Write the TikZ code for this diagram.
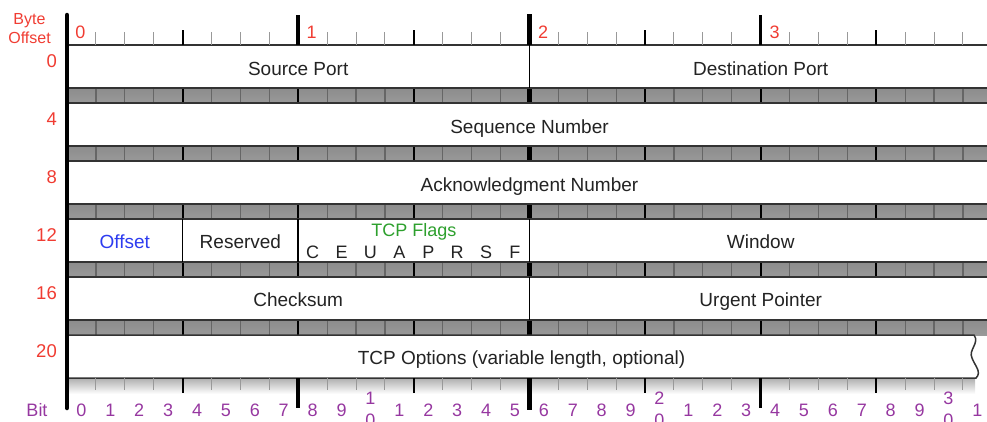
\documentclass[tikz,border=0pt]{standalone}
\usepackage{fontspec}
\setmainfont{Liberation Sans}
\definecolor{offred}{RGB}{240,60,50}
\definecolor{bitpurple}{RGB}{150,55,160}
\definecolor{offblue}{RGB}{45,60,240}
\definecolor{flaggreen}{RGB}{45,160,45}
\definecolor{fieldtext}{RGB}{35,35,35}
\tikzset{
 fieldlabel/.style={font=\fontsize{19}{22}\selectfont, text=fieldtext, anchor=base, inner sep=0pt},
 flaglabel/.style={font=\fontsize{18}{21}\selectfont, text=fieldtext, anchor=base, inner sep=0pt},
 offlabel/.style={font=\fontsize{18.5}{21}\selectfont, text=offred, anchor=east, inner sep=0pt},
 bytelabel/.style={font=\fontsize{18}{20}\selectfont, text=offred, inner sep=0pt},
 bitlabel/.style={font=\fontsize{18}{21}\selectfont, text=bitpurple, inner sep=0pt},
 rowline/.style={line width=1.5pt, draw=black!80},
 divider/.style={line width=1.6pt, draw=black},
 minortick/.style={line width=1pt, draw=black!40},
 nibtick/.style={line width=2pt, draw=black},
 bytetick/.style={line width=3.5pt, draw=black},
 halftick/.style={line width=4.5pt, draw=black},
 bandtick/.style={line width=1.2pt, draw=black!60},
}
\begin{document}
\begin{tikzpicture}[x=1pt,y=-1pt]
\useasboundingbox (0,0) rectangle (987,421);
% separator bands
\foreach \k in {0,...,4}{
  \pgfmathsetmacro\ytop{88+58*\k}
  \pgfmathsetmacro\ybot{103+58*\k}
  \shade[top color=black!45, middle color=black!22, bottom color=black!40] (67,\ytop) rectangle (987,\ybot);
  \foreach \b in {1,...,31}{
    \pgfmathtruncatemacro\md{mod(\b,4)}
    \pgfmathsetmacro\xx{67+28.9*\b}
    \ifnum\b=16 \draw[halftick] (\xx,\ytop) -- (\xx,\ybot);
    \else\ifnum\md=0 \draw[nibtick] (\xx,\ytop) -- (\xx,\ybot);
    \else \draw[bandtick] (\xx,\ytop) -- (\xx,\ybot); \fi\fi
  }
}
% rows 0..16
\foreach \k in {0,...,4}{
  \pgfmathsetmacro\ytop{45+58*\k}
  \pgfmathsetmacro\ybot{88+58*\k}
  \fill[white] (67,\ytop) rectangle (987,\ybot);
  \draw[rowline] (67,\ytop) -- (987,\ytop);
  \draw[rowline] (67,\ybot) -- (987,\ybot);
}
% row 20 with torn right edge
\fill[white] (67,335) -- (974,335) .. controls (980,343) and (968,350) .. (972,358)
  .. controls (975,366) and (982,372) .. (976,378) -- (67,378) -- cycle;
\draw[rowline] (67,335) -- (974,335) .. controls (980,343) and (968,350) .. (972,358)
  .. controls (975,366) and (982,372) .. (976,378) -- (67,378);
% shadow under the last row
\shade[top color=black!30, bottom color=white] (68,379) rectangle (975,394);
% field dividers
\draw[divider] (529.4,45) -- (529.4,88);
\draw[divider] (529.4,219) -- (529.4,262);
\draw[divider] (182.6,219) -- (182.6,262);
\draw[divider] (298.2,219) -- (298.2,262);
\draw[divider] (529.4,277) -- (529.4,320);
% top ruler
\foreach \b in {1,...,31}{
  \pgfmathtruncatemacro\md{mod(\b,4)}
  \pgfmathtruncatemacro\me{mod(\b,8)}
  \pgfmathsetmacro\xx{67+28.9*\b}
  \ifnum\b=16 \draw[halftick] (\xx,14) -- (\xx,45);
  \else\ifnum\me=0 \draw[bytetick] (\xx,15) -- (\xx,45);
  \else\ifnum\md=0 \draw[nibtick] (\xx,30) -- (\xx,45);
  \else \draw[minortick] (\xx,32) -- (\xx,45); \fi\fi\fi
}
% bottom ruler
\foreach \b in {1,...,31}{
  \pgfmathtruncatemacro\md{mod(\b,4)}
  \pgfmathtruncatemacro\me{mod(\b,8)}
  \pgfmathsetmacro\xx{67+28.9*\b}
  \ifnum\b=16 \draw[halftick] (\xx,378) -- (\xx,410);
  \else\ifnum\me=0 \draw[bytetick] (\xx,378) -- (\xx,408);
  \else\ifnum\md=0 \draw[nibtick] (\xx,378) -- (\xx,393);
  \else \draw[minortick] (\xx,378) -- (\xx,390); \fi\fi\fi
}
% left thick line
\draw[line width=4.5pt, line cap=round] (67,15) -- (67,408);
% byte offset labels
\node[font=\fontsize{16}{19}\selectfont, text=offred, align=center, inner sep=0pt] (byteoff) at (29.5,29) {Byte\\Offset};
\node[offlabel] (off0) at (57,61) {0};
\node[offlabel] (off4) at (57,119) {4};
\node[offlabel] (off8) at (57,177) {8};
\node[offlabel] (off12) at (57,235) {12};
\node[offlabel] (off16) at (57,293) {16};
\node[offlabel] (off20) at (57,351) {20};
% byte numbers
\node[bytelabel] (by0) at (80.5,32) {0};
\node[bytelabel] (by1) at (311.7,32) {1};
\node[bytelabel] (by2) at (543,32) {2};
\node[bytelabel] (by3) at (774.5,32) {3};
% bit numbers
\node[bitlabel] (bitword) at (37,410.5) {Bit};
\foreach \b in {0,...,31}{
  \pgfmathsetmacro\xx{67+28.9*(\b+0.5)}
  \pgfmathtruncatemacro\dig{mod(\b,10)}
  \pgfmathtruncatemacro\tens{int(\b/10)}
  \ifnum\dig=0
    \ifnum\b>0
      \node[bitlabel] (bit\b) at (\xx,398) {\tens};
      \node[bitlabel] (bit\b z) at (\xx,420) {0};
    \else
      \node[bitlabel] (bit\b) at (\xx,410.5) {\dig};
    \fi
  \else
    \node[bitlabel] (bit\b) at (\xx,410.5) {\dig};
  \fi
}
% field labels
\node[fieldlabel] (srcport) at (298.2,75) {Source Port};
\node[fieldlabel] (dstport) at (760.7,75) {Destination Port};
\node[fieldlabel] (seqnum) at (529.5,133) {Sequence Number};
\node[fieldlabel] (acknum) at (529.5,191) {Acknowledgment Number};
\node[fieldlabel, text=offblue] (offset) at (124.8,248.5) {Offset};
\node[fieldlabel] (reserved) at (240.4,248.5) {Reserved};
\node[flaglabel, text=flaggreen] (flags) at (413.8,236) {TCP Flags};
\foreach \f [count=\i from 8] in {C,E,U,A,P,R,S,F}{
  \pgfmathsetmacro\xx{67+28.9*(\i+0.5)}
  \node[flaglabel] (flag\f) at (\xx,258) {\f};
}
\node[fieldlabel] (window) at (760.7,248.5) {Window};
\node[fieldlabel] (checksum) at (298.2,306.5) {Checksum};
\node[fieldlabel] (urgent) at (760.7,306.5) {Urgent Pointer};
\node[fieldlabel] (options) at (521.5,364.5) {TCP Options (variable length, optional)};
\end{tikzpicture}
\end{document}
